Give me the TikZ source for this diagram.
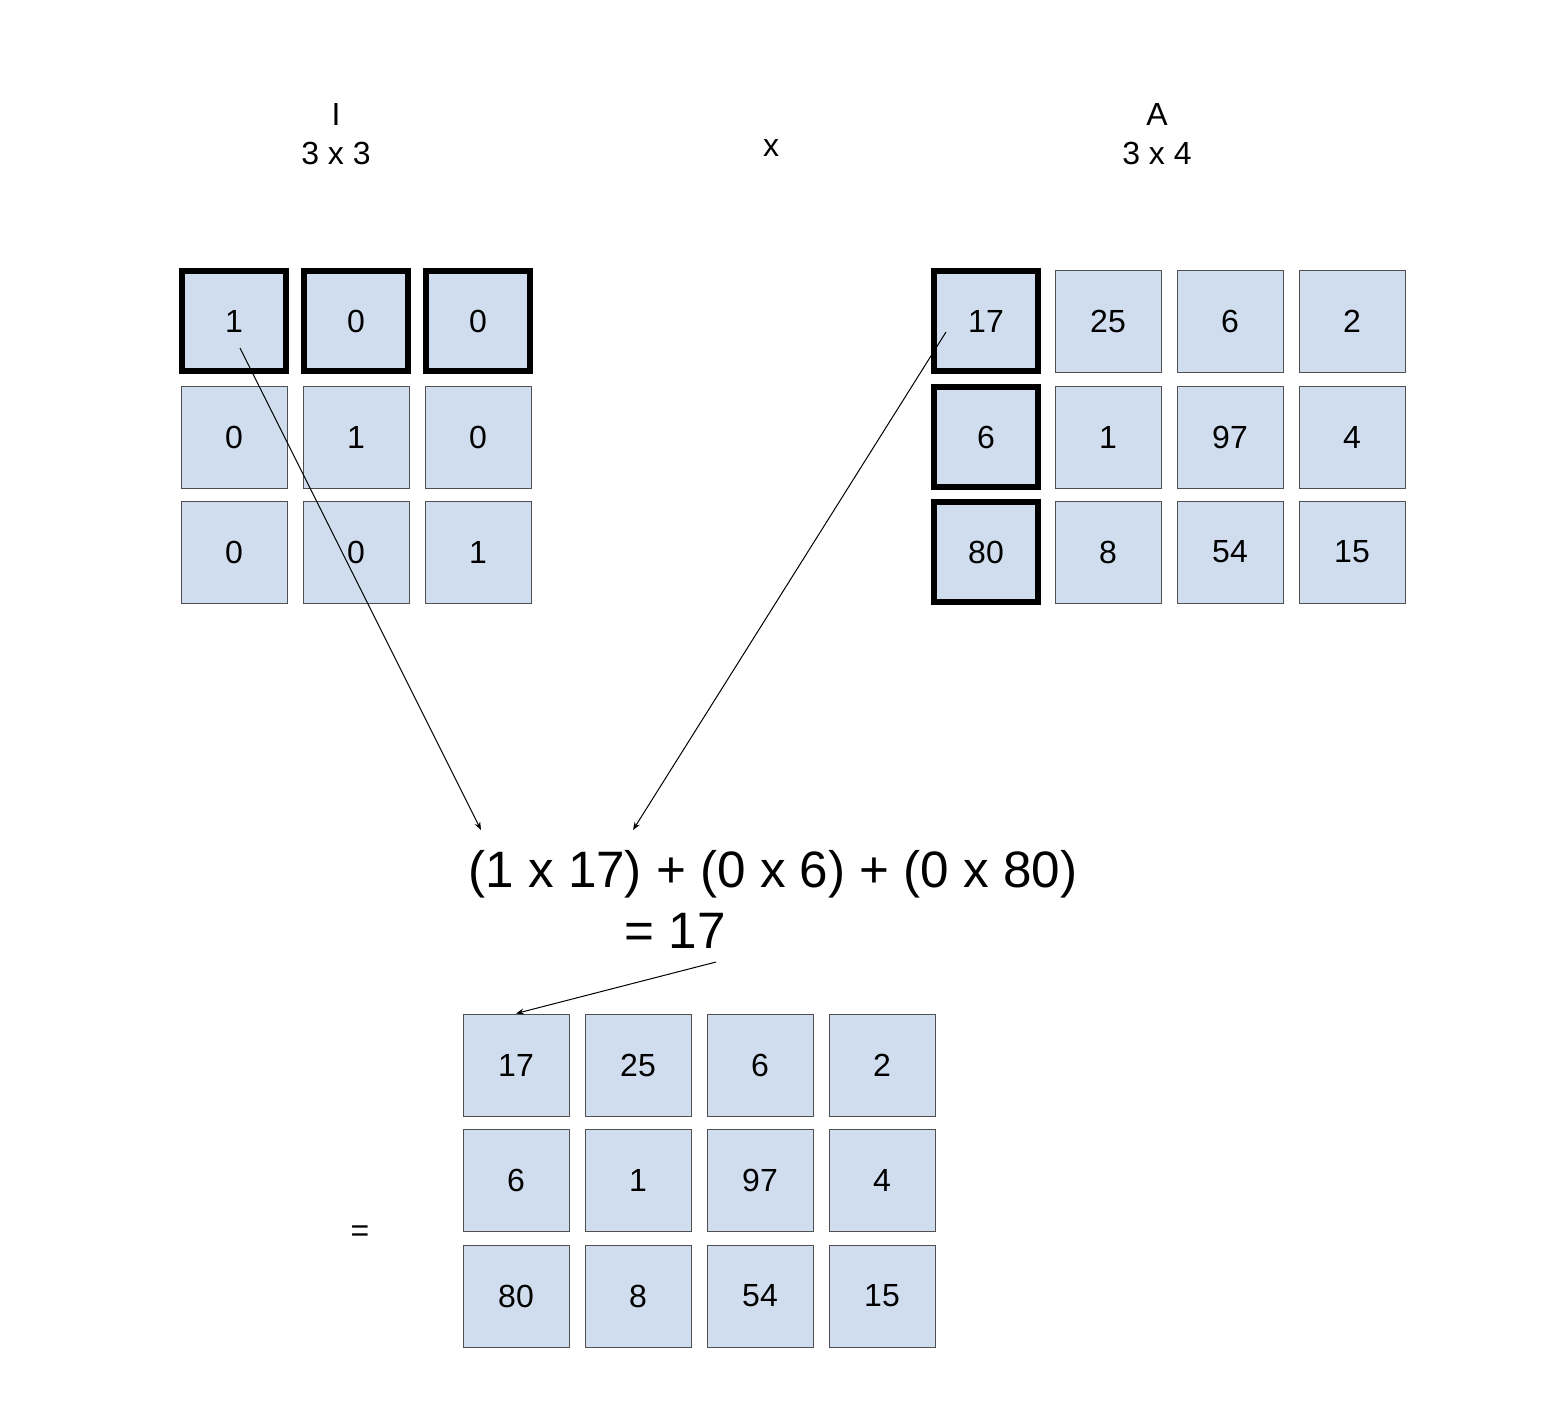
\documentclass[tikz,border=0pt]{standalone}
\usepackage{fontspec}
\setmainfont{Liberation Sans}
\usetikzlibrary{arrows.meta,calc}
\definecolor{cellfill}{RGB}{207,221,238}
\definecolor{celledge}{RGB}{80,80,80}
\tikzset{
  cell/.style={draw=celledge, line width=0.5pt, fill=cellfill, minimum width=53pt, minimum height=51pt, inner sep=0pt, font=\fontsize{16}{19}\selectfont},
  hcell/.style={cell, draw=black, line width=2.6pt, minimum width=52pt, minimum height=50pt},
  ttl/.style={anchor=base, inner sep=0pt, font=\fontsize{16}{19}\selectfont},
  eqn/.style={anchor=base, inner sep=0pt, font=\fontsize{25.6}{30}\selectfont},
  conn/.style={line width=0.5pt, -{Stealth[length=4pt,width=3pt]}}
}
\begin{document}
\begin{tikzpicture}[x=0.5pt,y=-0.5pt]
\useasboundingbox (0,0) rectangle (1558,1404);
\fill[white] (0,0) rectangle (1558,1404);
% titles
\node[ttl] (tI) at (336,125) {I};
\node[ttl] (tIs) at (336,164) {3 x 3};
\node[ttl] (tx) at (771,156) {x};
\node[ttl] (tA) at (1157,125) {A};
\node[ttl] (tAs) at (1157,164) {3 x 4};
% matrix I
\node[hcell] (i11) at (234,321) {1};
\node[hcell] (i12) at (356,321) {0};
\node[hcell] (i13) at (478,321) {0};
\node[cell] (i21) at (234,437) {0};
\node[cell] (i22) at (356,437) {1};
\node[cell] (i23) at (478,437) {0};
\node[cell] (i31) at (234,552) {0};
\node[cell] (i32) at (356,552) {0};
\node[cell] (i33) at (478,552) {1};
% matrix A
\node[hcell] (a11) at (986,321) {17};
\node[cell] (a12) at (1108,321) {25};
\node[cell] (a13) at (1230,321) {6};
\node[cell] (a14) at (1352,321) {2};
\node[hcell] (a21) at (986,437) {6};
\node[cell] (a22) at (1108,437) {1};
\node[cell] (a23) at (1230,437) {97};
\node[cell] (a24) at (1352,437) {4};
\node[hcell] (a31) at (986,552) {80};
\node[cell] (a32) at (1108,552) {8};
\node[cell] (a33) at (1230,552) {54};
\node[cell] (a34) at (1352,552) {15};
% equation
\node[eqn] (eq1) at (773,887) {(1 x 17) + (0 x 6) + (0 x 80)};
\node[eqn] (eq2) at (675,948) {= 17};
% result
\node[ttl] (teq) at (360,1241) {=};
\node[cell] (b11) at (516,1065) {17};
\node[cell] (b12) at (638,1065) {25};
\node[cell] (b13) at (760,1065) {6};
\node[cell] (b14) at (882,1065) {2};
\node[cell] (b21) at (516,1180) {6};
\node[cell] (b22) at (638,1180) {1};
\node[cell] (b23) at (760,1180) {97};
\node[cell] (b24) at (882,1180) {4};
\node[cell] (b31) at (516,1296) {80};
\node[cell] (b32) at (638,1296) {8};
\node[cell] (b33) at (760,1296) {54};
\node[cell] (b34) at (882,1296) {15};
% connectors
\coordinate (s1) at ($(i11.center)+(6,27)$);
\coordinate (e1) at (481,830);
\coordinate (s2) at ($(a11.center)+(-40,11)$);
\coordinate (e2) at (633,830);
\coordinate (s3) at (716,962);
\draw[conn] (s1) -- (e1);
\draw[conn] (s2) -- (e2);
\draw[conn] (s3) -- (b11.north);
\end{tikzpicture}
\end{document}
